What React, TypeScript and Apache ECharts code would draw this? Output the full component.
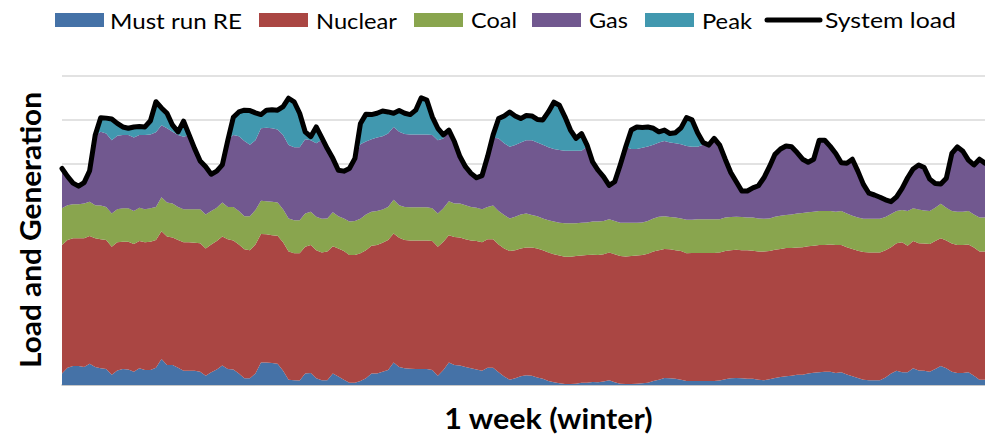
import React, { useEffect, useRef } from "react";
import * as echarts from "echarts";

// ---- data (hourly, one winter week) ----
const hours: string[] = Array.from({ length: 168 }, (_, i) => String(i + 1));

const mustRunRE: number[] = [
  0.26, 0.39, 0.43, 0.43, 0.41, 0.48, 0.41, 0.38, 0.36, 0.23,
  0.33, 0.36, 0.35, 0.30, 0.38, 0.34, 0.34, 0.39, 0.59, 0.45,
  0.45, 0.39, 0.32, 0.32, 0.32, 0.30, 0.21, 0.29, 0.35, 0.44,
  0.36, 0.35, 0.26, 0.15, 0.15, 0.26, 0.51, 0.51, 0.50, 0.48,
  0.32, 0.12, 0.11, 0.10, 0.26, 0.27, 0.15, 0.11, 0.11, 0.26,
  0.19, 0.12, 0.05, 0.05, 0.09, 0.15, 0.26, 0.26, 0.30, 0.34,
  0.51, 0.41, 0.38, 0.37, 0.36, 0.36, 0.36, 0.34, 0.21, 0.34,
  0.51, 0.45, 0.44, 0.41, 0.38, 0.35, 0.32, 0.39, 0.39, 0.29,
  0.19, 0.12, 0.15, 0.20, 0.22, 0.21, 0.17, 0.14, 0.09, 0.06,
  0.04, 0.02, 0.02, 0.03, 0.05, 0.05, 0.07, 0.06, 0.08, 0.11,
  0.06, 0.03, 0.02, 0.02, 0.03, 0.04, 0.05, 0.09, 0.12, 0.16,
  0.15, 0.14, 0.12, 0.09, 0.09, 0.09, 0.09, 0.09, 0.09, 0.10,
  0.13, 0.15, 0.16, 0.15, 0.14, 0.14, 0.12, 0.11, 0.13, 0.16,
  0.18, 0.20, 0.21, 0.23, 0.23, 0.26, 0.28, 0.29, 0.30, 0.30,
  0.27, 0.29, 0.24, 0.20, 0.16, 0.12, 0.11, 0.11, 0.11, 0.17,
  0.26, 0.32, 0.29, 0.29, 0.38, 0.33, 0.32, 0.30, 0.36, 0.43,
  0.38, 0.30, 0.27, 0.27, 0.29, 0.21, 0.12, 0.12,
];

const nuclear: number[] = [
  2.91, 2.89, 2.89, 2.89, 2.91, 2.89, 2.91, 2.92, 2.92, 2.90,
  2.90, 2.88, 2.89, 2.89, 2.88, 2.89, 2.90, 2.89, 2.89, 2.91,
  2.89, 2.89, 2.91, 2.91, 2.90, 2.91, 2.88, 2.89, 2.91, 2.92,
  2.94, 2.92, 2.92, 2.92, 2.90, 2.92, 2.91, 2.90, 2.89, 2.90,
  2.91, 2.90, 2.87, 2.88, 2.87, 2.90, 2.90, 2.89, 2.91, 2.88,
  2.90, 2.91, 2.89, 2.89, 2.89, 2.90, 2.89, 2.91, 2.92, 2.94,
  2.92, 2.92, 2.90, 2.90, 2.91, 2.91, 2.91, 2.92, 2.92, 2.90,
  2.88, 2.90, 2.90, 2.89, 2.89, 2.91, 2.91, 2.91, 2.91, 2.89,
  2.90, 2.91, 2.90, 2.89, 2.89, 2.90, 2.92, 2.91, 2.91, 2.90,
  2.89, 2.88, 2.88, 2.89, 2.88, 2.89, 2.88, 2.88, 2.88, 2.89,
  2.90, 2.89, 2.89, 2.90, 2.90, 2.90, 2.92, 2.93, 2.93, 2.92,
  2.92, 2.91, 2.91, 2.89, 2.90, 2.90, 2.90, 2.90, 2.90, 2.90,
  2.90, 2.90, 2.90, 2.90, 2.91, 2.90, 2.90, 2.91, 2.90, 2.90,
  2.90, 2.90, 2.89, 2.88, 2.89, 2.88, 2.87, 2.88, 2.87, 2.88,
  2.90, 2.88, 2.88, 2.88, 2.88, 2.89, 2.89, 2.89, 2.89, 2.88,
  2.86, 2.89, 2.94, 2.86, 2.88, 2.88, 2.88, 2.89, 2.90, 2.89,
  2.89, 2.90, 2.90, 2.90, 2.89, 2.90, 2.90, 2.90,
];

const coal: number[] = [
  0.83, 0.79, 0.77, 0.77, 0.79, 0.78, 0.75, 0.76, 0.75, 0.75,
  0.75, 0.76, 0.76, 0.75, 0.75, 0.75, 0.76, 0.75, 0.77, 0.77,
  0.77, 0.75, 0.75, 0.75, 0.76, 0.77, 0.77, 0.76, 0.75, 0.77,
  0.73, 0.76, 0.76, 0.75, 0.77, 0.78, 0.75, 0.75, 0.76, 0.75,
  0.75, 0.75, 0.75, 0.75, 0.75, 0.75, 0.76, 0.76, 0.75, 0.77,
  0.73, 0.74, 0.76, 0.77, 0.78, 0.81, 0.77, 0.77, 0.75, 0.75,
  0.76, 0.74, 0.75, 0.75, 0.75, 0.75, 0.75, 0.74, 0.75, 0.76,
  0.77, 0.76, 0.77, 0.77, 0.76, 0.75, 0.75, 0.73, 0.76, 0.76,
  0.76, 0.74, 0.76, 0.77, 0.77, 0.74, 0.73, 0.72, 0.73, 0.74,
  0.74, 0.76, 0.76, 0.74, 0.74, 0.74, 0.75, 0.76, 0.75, 0.75,
  0.75, 0.75, 0.76, 0.75, 0.74, 0.74, 0.74, 0.75, 0.76, 0.74,
  0.73, 0.74, 0.74, 0.76, 0.75, 0.76, 0.76, 0.76, 0.76, 0.75,
  0.76, 0.75, 0.75, 0.75, 0.74, 0.75, 0.75, 0.74, 0.74, 0.75,
  0.75, 0.75, 0.76, 0.77, 0.77, 0.77, 0.77, 0.77, 0.77, 0.76,
  0.75, 0.77, 0.76, 0.75, 0.75, 0.75, 0.76, 0.76, 0.76, 0.75,
  0.75, 0.73, 0.73, 0.79, 0.74, 0.76, 0.75, 0.75, 0.75, 0.78,
  0.74, 0.74, 0.75, 0.75, 0.76, 0.75, 0.77, 0.77,
];

const gas: number[] = [
  0.90, 0.65, 0.48, 0.41, 0.47, 0.70, 1.58, 1.67, 1.66, 1.66,
  1.66, 1.66, 1.66, 1.66, 1.65, 1.68, 1.67, 1.69, 1.63, 1.68,
  1.62, 1.63, 1.64, 1.68, 1.37, 1.09, 1.08, 0.83, 0.83, 0.85,
  1.51, 1.63, 1.69, 1.70, 1.62, 1.58, 1.64, 1.66, 1.66, 1.65,
  1.68, 1.66, 1.65, 1.65, 1.68, 1.62, 1.66, 1.79, 1.58, 1.22,
  1.04, 1.07, 1.20, 1.42, 1.69, 1.65, 1.64, 1.66, 1.66, 1.66,
  1.65, 1.66, 1.65, 1.65, 1.65, 1.65, 1.65, 1.66, 1.66, 1.58,
  1.61, 1.40, 1.06, 0.87, 0.76, 0.68, 0.76, 1.14, 1.54, 1.64,
  1.62, 1.62, 1.62, 1.63, 1.66, 1.69, 1.67, 1.67, 1.65, 1.64,
  1.65, 1.64, 1.64, 1.64, 1.63, 1.72, 1.35, 1.16, 1.00, 0.77,
  0.89, 1.31, 1.72, 1.67, 1.67, 1.69, 1.69, 1.67, 1.68, 1.70,
  1.69, 1.68, 1.68, 1.67, 1.65, 1.64, 1.69, 1.68, 1.83, 1.68,
  1.32, 1.01, 0.79, 0.59, 0.60, 0.67, 0.74, 0.93, 1.17, 1.41,
  1.51, 1.56, 1.53, 1.38, 1.22, 1.13, 1.19, 1.60, 1.60, 1.46,
  1.32, 1.09, 1.14, 1.28, 1.05, 0.78, 0.58, 0.54, 0.49, 0.39,
  0.28, 0.32, 0.49, 0.75, 0.89, 1.01, 0.97, 0.72, 0.55, 0.45,
  0.67, 1.30, 1.47, 1.37, 1.15, 1.12, 1.32, 1.23,
];

const peak: number[] = [
  0, 0, 0, 0, 0, 0, 0, 0.32, 0.35, 0.48,
  0.28, 0.18, 0.15, 0.24, 0.19, 0.18, 0.31, 0.69, 0.39, 0.34,
  0.15, 0.07, 0.35, 0, 0, 0, 0, 0, 0, 0,
  0, 0.40, 0.55, 0.70, 0.77, 0.62, 0.31, 0.40, 0.42, 0.44,
  0.64, 1.06, 1.03, 0.77, 0.17, 0.08, 0.37, 0.05, 0, 0,
  0, 0, 0, 0, 0.47, 0.62, 0.56, 0.55, 0.57, 0.49,
  0.31, 0.48, 0.47, 0.45, 0.55, 0.83, 0.78, 0.41, 0.27, 0.08,
  0, 0, 0, 0, 0, 0, 0, 0, 0.06, 0.45,
  0.62, 0.79, 0.66, 0.54, 0.56, 0.55, 0.52, 0.56, 0.80, 1.06,
  1.01, 0.77, 0.47, 0.28, 0.39, 0.03, 0, 0, 0, 0,
  0, 0, 0, 0.43, 0.50, 0.46, 0.44, 0.37, 0.24, 0.25,
  0.20, 0.24, 0.37, 0.64, 0.61, 0.32, 0.05, 0, 0, 0,
  0, 0, 0, 0, 0, 0, 0, 0, 0, 0,
  0, 0, 0, 0, 0, 0, 0, 0, 0, 0,
  0, 0, 0, 0, 0, 0, 0, 0, 0, 0,
  0, 0, 0, 0, 0, 0, 0, 0, 0, 0,
  0, 0, 0, 0, 0, 0, 0, 0,
];

const systemLoad: number[] = [
  4.90, 4.72, 4.57, 4.50, 4.58, 4.85, 5.65, 6.05, 6.04, 6.02,
  5.92, 5.84, 5.81, 5.84, 5.85, 5.84, 5.98, 6.41, 6.27, 6.15,
  5.88, 5.73, 5.97, 5.66, 5.35, 5.07, 4.94, 4.77, 4.84, 4.98,
  5.54, 6.06, 6.18, 6.22, 6.21, 6.16, 6.12, 6.22, 6.23, 6.22,
  6.30, 6.49, 6.41, 6.15, 5.73, 5.62, 5.84, 5.60, 5.35, 5.13,
  4.86, 4.84, 4.90, 5.13, 5.92, 6.13, 6.12, 6.15, 6.20, 6.18,
  6.15, 6.21, 6.15, 6.12, 6.22, 6.50, 6.45, 6.07, 5.81, 5.66,
  5.77, 5.51, 5.17, 4.94, 4.79, 4.69, 4.74, 5.17, 5.66, 6.03,
  6.09, 6.18, 6.09, 6.03, 6.10, 6.09, 6.01, 6.00, 6.18, 6.40,
  6.33, 6.07, 5.77, 5.58, 5.69, 5.43, 5.05, 4.86, 4.71, 4.52,
  4.60, 4.98, 5.39, 5.77, 5.84, 5.83, 5.84, 5.81, 5.73, 5.77,
  5.69, 5.71, 5.82, 6.05, 6.00, 5.71, 5.49, 5.43, 5.58, 5.43,
  5.11, 4.81, 4.60, 4.39, 4.39, 4.46, 4.51, 4.69, 4.94, 5.22,
  5.34, 5.41, 5.39, 5.26, 5.11, 5.04, 5.11, 5.54, 5.54, 5.40,
  5.24, 5.03, 5.02, 5.11, 4.84, 4.54, 4.34, 4.30, 4.25, 4.19,
  4.15, 4.26, 4.45, 4.69, 4.89, 4.98, 4.92, 4.66, 4.56, 4.55,
  4.68, 5.24, 5.39, 5.29, 5.09, 4.98, 5.11, 5.02,
];

const seriesNames: string[] = ["Must run RE", "Nuclear", "Coal", "Gas", "Peak"];
const lineName = "System load";
const yTitle = "Load and Generation";
const xTitle = "1 week (winter)";

// ---- styles / layout ----
const COLORS = ["#4572A7", "#AA4643", "#89A54E", "#71588F", "#4198AF"];
const FONT = "Lato, 'Noto Sans', sans-serif";

function measure(text: string, size: number, weight: string): number {
  try {
    const ctx = document.createElement("canvas").getContext("2d");
    if (!ctx) return 0;
    ctx.font = `${weight} ${size}px Lato`;
    return ctx.measureText(text).width;
  } catch (e) {
    return 0;
  }
}

function fitText(
  text: string,
  x: number,
  y: number,
  size: number,
  weight: string,
  targetW: number,
  align: string,
  rotation = 0
) {
  const w = measure(text, size, weight);
  const sx = w > 0 ? targetW / w : 1;
  return {
    type: "text",
    x,
    y,
    rotation,
    scaleX: sx,
    z: 100,
    style: {
      text,
      fontSize: size,
      fontFamily: FONT,
      fontWeight: weight,
      fill: "#000",
      align,
      textAlign: align,
      verticalAlign: "middle",
      textVerticalAlign: "middle",
    },
  };
}

// legend layout: icon left, text left, text width
const LEGEND_LAYOUT = [
  { icon: 55, text: 110, w: 132 },
  { icon: 259, text: 316, w: 81 },
  { icon: 414, text: 471, w: 46 },
  { icon: 532, text: 589, w: 39 },
  { icon: 645, text: 702, w: 50 },
];
const LINE_ICON = { x1: 767, x2: 820, text: 825, w: 131 };
const LEGEND_Y = 20;

export default function App() {
  const ref = useRef<HTMLDivElement>(null);

  useEffect(() => {
    if (!ref.current) return;
    const chart = echarts.init(ref.current, null, { renderer: "svg" });

    const valuesBySeries = [mustRunRE, nuclear, coal, gas, peak];

    const areaSeries = seriesNames.map((name, k) => ({
      type: "line",
      name,
      stack: "gen",
      data: valuesBySeries[k],
      symbol: "none",
      showSymbol: false,
      smooth: false,
      lineStyle: { width: 0, color: COLORS[k] },
      itemStyle: { color: COLORS[k] },
      areaStyle: { color: COLORS[k], opacity: 1 },
      z: 2,
    }));

    const graphics: any[] = [];
    LEGEND_LAYOUT.forEach((l, k) => {
      graphics.push({
        type: "rect",
        shape: { x: l.icon, y: LEGEND_Y - 7, width: 49, height: 14 },
        style: { fill: COLORS[k] },
        z: 100,
      });
      graphics.push(fitText(seriesNames[k], l.text, LEGEND_Y, 22, "normal", l.w, "left"));
    });
    graphics.push({
      type: "line",
      shape: { x1: LINE_ICON.x1, y1: LEGEND_Y, x2: LINE_ICON.x2, y2: LEGEND_Y },
      style: { stroke: "#000", lineWidth: 5, lineCap: "round" },
      z: 100,
    });
    graphics.push(fitText(lineName, LINE_ICON.text, LEGEND_Y, 22, "normal", LINE_ICON.w, "left"));
    graphics.push(fitText(xTitle, 548.5, 418, 28, "bold", 209, "center"));
    graphics.push(fitText(yTitle, 30, 230, 29, "bold", 276, "center", Math.PI / 2));

    chart.setOption({
      animation: false,
      grid: { left: 62, right: 0, top: 75.7, bottom: 51, outerBoundsMode: "none" },
      xAxis: {
        type: "category",
        data: hours,
        boundaryGap: false,
        axisLabel: { show: false },
        axisTick: { show: false },
        axisLine: { show: true, lineStyle: { color: "#bfbfbf", width: 1.5 } },
        splitLine: { show: false },
      },
      yAxis: {
        type: "value",
        min: 0,
        max: 7,
        interval: 1,
        axisLabel: { show: false },
        axisTick: { show: false },
        axisLine: { show: false },
        splitLine: { show: true, lineStyle: { color: "#d9d9d9", width: 1.5 } },
      },
      series: [
        ...areaSeries,
        {
          type: "line",
          name: lineName,
          data: systemLoad,
          symbol: "none",
          showSymbol: false,
          lineStyle: { color: "#000", width: 5, join: "round", cap: "round" },
          itemStyle: { color: "#000" },
          z: 5,
        },
      ],
      graphic: graphics,
    });

    return () => chart.dispose();
  }, []);

  return (
    <div
      ref={ref}
      style={{ position: "absolute", left: 0, top: 0, width: 985, height: 436, background: "#fff" }}
    />
  );
}
